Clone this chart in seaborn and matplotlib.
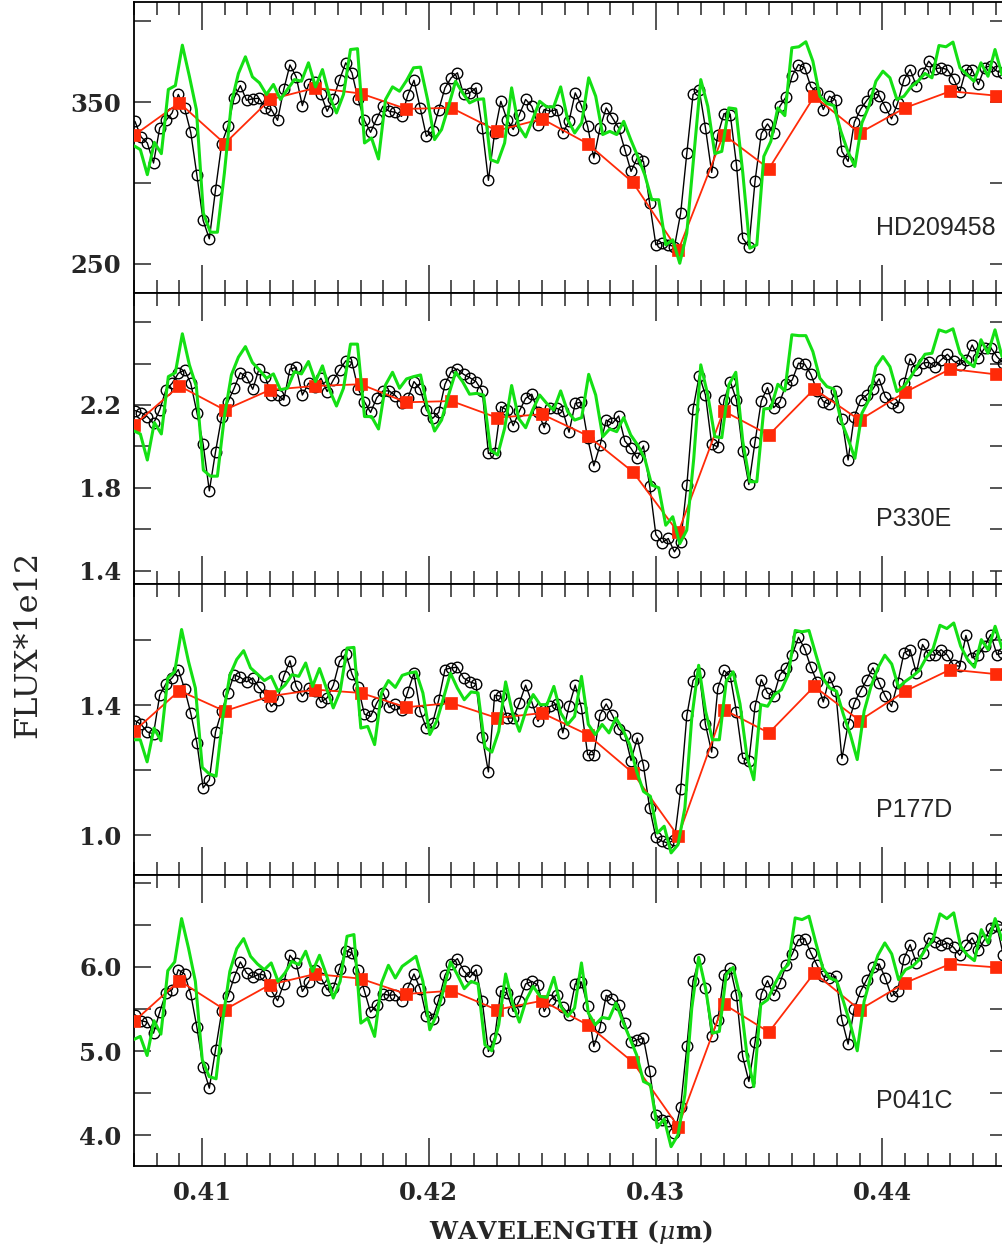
import numpy as np
import pandas as pd
import matplotlib
matplotlib.use("Agg")
import matplotlib.pyplot as plt
import seaborn as sns
from matplotlib.ticker import FixedLocator, MultipleLocator, FormatStrFormatter

# ---------------------------------------------------------------------------
# Wavelength grids (micron)
# ---------------------------------------------------------------------------
obs_wl_start, obs_wl_stop, n_obs = 0.40704, 0.44533, 141      # STIS pixels
model_wl_start, model_wl_stop = 0.40697, 0.44528             # model grid
binned_wl = [0.407, 0.409, 0.411, 0.413, 0.415, 0.417, 0.419, 0.421, 0.423,
             0.425, 0.427, 0.429, 0.431, 0.433, 0.435, 0.437, 0.439, 0.441,
             0.443, 0.445]

star_names = ["HD209458", "P330E", "P177D", "P041C"]

# ---------------------------------------------------------------------------
# HD209458
# ---------------------------------------------------------------------------
obs_hd209458 = [
    338.2, 328.5, 324.8, 312.4, 334.1, 338.8, 343.4, 354.8, 346.5, 331.4,
    304.8, 276.9, 265.5, 295.9, 324.4, 335.1, 352.7, 360.3, 351.2, 352.1,
    352.5, 346.5, 345.5, 338.8, 357.9, 373.1, 365.7, 347.9, 361.0, 362.4,
    354.8, 344.4, 352.3, 364.0,
    374.4, 368.2, 351.7, 338.8, 331.4, 339.9, 347.5, 344.4, 343.8, 341.3,
    354.3, 363.6, 346.5, 328.9, 332.0, 345.5, 358.9, 365.1, 368.2, 354.8,
    355.8, 358.9, 334.1, 301.7, 331.0, 350.6, 339.3, 333.1, 342.4, 351.7,
    347.5, 336.2, 345.5, 344.4, 345.5, 331.0, 338.2, 355.8, 347.9, 335.1,
    315.5, 334.1, 346.5, 340.3, 334.1, 320.7, 307.2, 315.5, 313.4, 287.6,
    261.8, 263.2, 261.8,
    260.7, 281.4, 318.6, 354.8, 357.4, 334.1, 306.6, 330.0, 343.0, 342.4,
    311.4, 265.9, 260.7, 301.4, 330.6, 336.6, 331.0, 347.5, 353.3, 366.5,
    373.3, 371.3, 359.5, 356.2, 345.5, 353.7, 351.2, 319.6, 313.4, 337.6,
    345.5, 351.0, 355.8, 354.1, 347.1, 339.7, 349.6, 364.0, 370.2, 360.3,
    368.2, 375.4, 370.7, 371.3, 370.2, 364.5, 356.2, 370.2, 370.2, 361.0,
    371.3, 372.7, 369.2, 368.2]
model_hd209458 = [
    323.3, 320.7, 305.2, 325.2, 318.2, 357.9, 360.3, 385.3, 366.1, 345.5,
    281.4, 269.6, 269.6, 306.2, 349.6, 367.8, 378.1, 365.7, 362.0, 354.8,
    361.0, 351.7, 357.9, 364.0, 363.0, 374.4, 359.5, 370.2, 353.7, 343.4,
    354.8,
    382.6, 383.1, 324.8, 327.9, 314.9, 351.7, 359.5, 356.8, 363.4, 371.3,
    371.7, 351.7, 326.9, 333.1, 347.5, 363.0, 355.8, 349.6, 351.7, 352.1,
    314.5, 312.8, 324.8, 358.9, 335.1, 328.5, 339.3, 350.6, 347.1, 347.1,
    359.5, 339.3, 331.0, 337.2, 365.1, 353.7, 330.0, 332.0, 330.0, 338.2,
    326.9, 316.5, 305.2, 289.7, 289.7, 261.8, 264.9, 250.4,
    269.0, 316.5, 364.0, 347.5, 318.2, 319.6, 346.5, 345.9, 306.2, 259.7,
    261.8, 316.5, 325.8, 346.5, 341.7, 383.7, 384.3, 387.4, 375.4, 353.7,
    349.2, 347.9, 332.0, 319.6, 310.3, 337.2, 347.5, 363.0, 369.2, 365.1,
    351.7, 353.7, 359.5, 363.0, 367.8, 365.1, 385.1, 384.3, 387.2, 371.3,
    367.1, 363.0, 374.4, 366.1, 382.6, 367.1]
binned_hd209458 = [329.5, 349.6, 324.4, 351.7, 358.9, 355.4, 345.9, 346.5,
                   332.4, 339.7, 324.4, 300.4, 258.3, 330.0, 308.9, 353.7,
                   331.0, 346.5, 356.8, 354.1]

# ---------------------------------------------------------------------------
# P330E
# ---------------------------------------------------------------------------
obs_p330e = [
    2.173, 2.163, 2.144, 2.111, 2.176, 2.273, 2.305, 2.353, 2.369, 2.305,
    2.163, 2.011, 1.785, 1.974, 2.144, 2.216, 2.281, 2.356, 2.334, 2.276,
    2.373, 2.337, 2.248, 2.248, 2.224, 2.373, 2.382, 2.248, 2.305, 2.289,
    2.329, 2.265, 2.321, 2.369,
    2.413, 2.406, 2.277, 2.216, 2.164, 2.235, 2.268, 2.268, 2.245, 2.208,
    2.232, 2.313, 2.277, 2.176, 2.135, 2.165, 2.300, 2.361, 2.374, 2.348,
    2.332, 2.313, 2.268, 1.966, 1.966, 2.192, 2.176, 2.100, 2.171, 2.232,
    2.252, 2.168, 2.090, 2.187, 2.184, 2.171, 2.068, 2.208, 2.213, 2.039,
    1.906, 2.006, 2.127, 2.111, 2.147, 2.026, 1.990, 1.942, 2.002, 1.810,
    1.574, 1.535, 1.555,
    1.490, 1.539, 1.813, 2.181, 2.342, 2.248, 2.010, 1.998, 2.224, 2.313,
    2.224, 1.977, 1.816, 2.023, 2.219, 2.284, 2.187, 2.216, 2.300, 2.321,
    2.402, 2.397, 2.348, 2.268, 2.216, 2.203, 2.268, 2.132, 1.934, 2.144,
    2.224, 2.248, 2.277, 2.326, 2.240, 2.208, 2.192, 2.305, 2.423, 2.369,
    2.402, 2.406, 2.385, 2.418, 2.445, 2.413, 2.394, 2.418, 2.490, 2.429,
    2.474, 2.477, 2.434, 2.402]
model_p330e = [
    2.076, 2.060, 1.934, 2.115, 2.060, 2.337, 2.356, 2.544, 2.394, 2.289,
    1.885, 1.856, 1.856, 2.144, 2.345, 2.431, 2.482, 2.405, 2.369, 2.329,
    2.350, 2.273, 2.281, 2.361, 2.350, 2.410, 2.313, 2.389, 2.273, 2.195,
    2.281,
    2.494, 2.494, 2.144, 2.144, 2.084, 2.297, 2.358, 2.281, 2.326, 2.337,
    2.345, 2.184, 2.074, 2.127, 2.248, 2.358, 2.313, 2.252, 2.256, 2.248,
    1.982, 1.958, 2.087, 2.294, 2.135, 2.090, 2.176, 2.248, 2.208, 2.176,
    2.268, 2.168, 2.127, 2.139, 2.348, 2.248, 2.047, 2.084, 2.071, 2.139,
    2.055, 2.006, 1.942, 1.813, 1.800, 1.619, 1.660, 1.530,
    1.595, 1.942, 2.394, 2.248, 2.047, 2.042, 2.297, 2.358, 2.023, 1.829,
    1.829, 2.181, 2.184, 2.300, 2.268, 2.539, 2.535, 2.535, 2.458, 2.329,
    2.289, 2.277, 2.127, 2.039, 1.942, 2.160, 2.224, 2.385, 2.434, 2.385,
    2.265, 2.289, 2.337, 2.394, 2.445, 2.450, 2.563, 2.552, 2.568, 2.450,
    2.410, 2.385, 2.515, 2.450, 2.563, 2.434]
binned_p330e = [2.103, 2.292, 2.176, 2.273, 2.292, 2.300, 2.213, 2.219,
                2.139, 2.155, 2.052, 1.877, 1.584, 2.171, 2.055, 2.277,
                2.127, 2.261, 2.374, 2.348]

# ---------------------------------------------------------------------------
# P177D
# ---------------------------------------------------------------------------
obs_p177d = [
    1.353, 1.341, 1.318, 1.312, 1.431, 1.466, 1.484, 1.510, 1.451, 1.376,
    1.284, 1.146, 1.171, 1.318, 1.382, 1.438, 1.494, 1.486, 1.472, 1.484,
    1.455, 1.433, 1.397, 1.417, 1.489, 1.537, 1.458, 1.428, 1.453, 1.443,
    1.410, 1.423, 1.462, 1.535, 1.558, 1.496, 1.455, 1.373, 1.366, 1.407,
    1.438, 1.394, 1.404, 1.384, 1.441, 1.499, 1.382, 1.330, 1.346, 1.417,
    1.510, 1.515, 1.517, 1.484, 1.472, 1.466, 1.302, 1.195, 1.431,
    1.428, 1.361, 1.361, 1.407, 1.462, 1.410, 1.351, 1.387, 1.397, 1.404,
    1.315, 1.397, 1.462, 1.392, 1.248, 1.248, 1.371, 1.404, 1.369, 1.328,
    1.310, 1.230, 1.299, 1.215, 1.084, 0.994, 0.982, 0.976, 0.987, 1.141,
    1.369, 1.476, 1.499, 1.341, 1.256, 1.453, 1.507, 1.489, 1.379, 1.238,
    1.228, 1.397, 1.479, 1.438, 1.428, 1.494, 1.515, 1.556, 1.609, 1.574,
    1.517, 1.472, 1.410, 1.486, 1.443, 1.236, 1.341, 1.407, 1.445, 1.479,
    1.515, 1.469, 1.428, 1.397, 1.469, 1.561, 1.571, 1.499, 1.587, 1.556,
    1.554, 1.571, 1.554, 1.523, 1.520, 1.615, 1.546, 1.556, 1.582, 1.617,
    1.556, 1.561]
model_p177d = [
    1.294, 1.294, 1.226, 1.330, 1.291, 1.484, 1.503, 1.633, 1.535, 1.453,
    1.209, 1.189, 1.182, 1.366, 1.492, 1.541, 1.568, 1.515, 1.496, 1.476,
    1.489, 1.443, 1.462, 1.494, 1.489, 1.530, 1.458, 1.513, 1.453, 1.392,
    1.443,
    1.576, 1.578, 1.330, 1.335, 1.279, 1.438, 1.476, 1.455, 1.492, 1.499,
    1.503, 1.438, 1.310, 1.351, 1.423, 1.499, 1.453, 1.417, 1.441, 1.438,
    1.271, 1.256, 1.320,
    1.472, 1.376, 1.320, 1.387, 1.433, 1.402, 1.402, 1.458, 1.376, 1.341,
    1.366, 1.489, 1.341, 1.310, 1.341, 1.315, 1.361, 1.325, 1.279, 1.197,
    1.135, 1.120, 1.007, 1.028, 0.946,
    0.971, 1.084, 1.361, 1.523, 1.382, 1.294, 1.294, 1.474, 1.503, 1.404,
    1.243, 1.171, 1.402, 1.397, 1.433, 1.448, 1.494, 1.630, 1.626, 1.630,
    1.556, 1.484, 1.453, 1.443, 1.371, 1.310, 1.233, 1.382, 1.458, 1.515,
    1.554, 1.527, 1.455, 1.474, 1.489, 1.507, 1.546, 1.574, 1.646, 1.636,
    1.653, 1.582, 1.541, 1.517, 1.602, 1.571, 1.643, 1.576]
binned_p177d = [1.320, 1.445, 1.382, 1.428, 1.448, 1.438, 1.394, 1.407,
                1.361, 1.376, 1.310, 1.192, 0.997, 1.387, 1.315, 1.458,
                1.353, 1.443, 1.510, 1.496]

# ---------------------------------------------------------------------------
# P041C
# ---------------------------------------------------------------------------
obs_p041c = [
    5.433, 5.361, 5.345, 5.214, 5.464, 5.690, 5.730, 5.968, 5.917, 5.679,
    5.282, 4.806, 4.560, 5.016, 5.472, 5.651, 5.877, 6.060, 5.929, 5.877,
    5.917, 5.901, 5.718, 5.599, 5.798, 6.139, 6.048, 5.710, 5.821, 5.968,
    5.869, 5.730, 5.750, 5.980, 6.194, 6.167, 5.968, 5.718, 5.464, 5.552,
    5.679, 5.663, 5.671, 5.599, 5.750, 5.917, 5.742, 5.413, 5.385, 5.611,
    5.901, 6.036, 6.099, 5.956, 5.877, 5.968, 5.599, 4.996, 5.155,
    5.718, 5.690, 5.472, 5.599, 5.798, 5.829, 5.782, 5.472, 5.611, 5.671,
    5.520, 5.433, 5.798, 5.821, 5.532, 5.056, 5.282, 5.663, 5.623, 5.552,
    5.333, 5.107, 5.135, 5.155, 4.766, 4.242, 4.183, 4.171, 4.024, 4.341,
    5.056, 5.837, 6.099, 5.750, 5.175, 5.373, 5.909, 5.988, 5.663, 4.937,
    4.639, 5.107, 5.679, 5.837, 5.663, 5.810, 6.020, 6.155, 6.325, 6.337,
    6.167, 6.020, 5.889, 5.869, 5.889, 5.373, 5.083, 5.504, 5.710, 5.849,
    5.996, 6.036, 5.869, 5.651, 5.718, 6.099, 6.266, 6.048, 6.167, 6.345,
    6.298, 6.258, 6.286, 6.234, 6.139, 6.258, 6.345, 6.206, 6.325, 6.464,
    6.484, 6.147]
model_p041c = [
    5.135, 5.175, 4.948, 5.361, 5.202, 5.956, 6.060, 6.575, 6.226, 5.829,
    4.897, 4.698, 4.671, 5.385, 5.948, 6.218, 6.337, 6.127, 6.036, 5.968,
    6.048, 5.829, 5.929, 6.067, 6.028, 6.187, 5.948, 6.139, 5.909, 5.631,
    5.829,
    6.365, 6.385, 5.333, 5.393, 5.175, 5.810, 6.020, 5.869, 6.008, 6.067,
    6.127, 5.829, 5.254, 5.433, 5.730, 6.060, 5.909, 5.742, 5.829, 5.798,
    5.075, 5.004, 5.313,
    5.917, 5.571, 5.345, 5.611, 5.770, 5.651, 5.639, 5.877, 5.532, 5.413,
    5.512, 6.048, 5.452, 5.313, 5.401, 5.385, 5.571, 5.353, 5.155, 4.956,
    4.639, 4.599, 4.091, 4.194, 3.865,
    4.004, 4.480, 5.512, 6.115, 5.750, 5.214, 5.234, 5.909, 5.996, 5.651,
    4.956, 4.579, 5.552, 5.611, 5.790, 5.948, 6.028, 6.583, 6.563, 6.603,
    6.286, 5.988, 5.869, 5.837, 5.591, 5.321, 5.004, 5.591, 5.889, 6.139,
    6.286, 6.155, 5.849, 5.968, 6.008, 6.087, 6.226, 6.325, 6.631, 6.575,
    6.643, 6.246, 6.139, 6.075, 6.444, 6.286, 6.575, 6.325]
binned_p041c = [5.353, 5.837, 5.492, 5.790, 5.917, 5.861, 5.679, 5.718,
                5.492, 5.599, 5.313, 4.869, 4.103, 5.560, 5.226, 5.929,
                5.492, 5.810, 6.036, 5.996]

# Axis ranges and tick positions for each panel
panel_ylims = [(232.0, 412.0), (1.335, 2.741), (0.878, 1.773), (3.635, 7.093)]
panel_yticks = [[250, 350], [1.4, 1.8, 2.2], [1.0, 1.4], [4.0, 5.0, 6.0]]
panel_yminor = [[300, 400], [1.6, 2.0, 2.4, 2.6], [1.2, 1.6], [4.5, 5.5, 6.5, 7.0]]
panel_yfmt = ["%d", "%.1f", "%.1f", "%.1f"]
x_major = [0.41, 0.42, 0.43, 0.44]

obs_sets = [obs_hd209458, obs_p330e, obs_p177d, obs_p041c]
model_sets = [model_hd209458, model_p330e, model_p177d, model_p041c]
binned_sets = [binned_hd209458, binned_p330e, binned_p177d, binned_p041c]

# ---------------------------------------------------------------------------
# Styling
# ---------------------------------------------------------------------------
sns.set_style("ticks")
plt.rcParams.update({
    "font.family": ["DejaVu Serif", "DejaVu Sans"],
    "mathtext.fontset": "dejavuserif",
    "axes.linewidth": 1.3,
    "axes.edgecolor": "black",
})

OBS_COLOR = "black"
MODEL_COLOR = "#14e014"
BIN_COLOR = "#ff2a08"

W_PX, H_PX = 1003, 1251
fig = plt.figure(figsize=(W_PX / 100, H_PX / 100), dpi=100)

ax_left_px, ax_right_px = 134, 1007
panel_edges_px = [(2, 293), (293, 584), (584, 875), (875, 1166)]

obs_wl = np.linspace(obs_wl_start, obs_wl_stop, n_obs)
tick_font = dict(family="DejaVu Serif", weight="bold", size=17.5)

for k, (top_px, bot_px) in enumerate(panel_edges_px):
    rect = [ax_left_px / W_PX, 1 - bot_px / H_PX,
            (ax_right_px - ax_left_px) / W_PX, (bot_px - top_px) / H_PX]
    ax = fig.add_axes(rect)

    obs_df = pd.DataFrame({"wl": obs_wl, "flux": obs_sets[k]})
    model_df = pd.DataFrame({
        "wl": np.linspace(model_wl_start, model_wl_stop, len(model_sets[k])),
        "flux": model_sets[k]})
    bin_df = pd.DataFrame({"wl": binned_wl, "flux": binned_sets[k]})

    # observed spectrum: thin black line with open circles
    sns.lineplot(data=obs_df, x="wl", y="flux", ax=ax, color=OBS_COLOR,
                 linewidth=1.0, marker="o", markersize=7.6,
                 markerfacecolor="none", markeredgecolor=OBS_COLOR,
                 markeredgewidth=1.0, estimator=None, sort=False,
                 legend=False, zorder=2)
    # 20 A bins: red squares
    sns.lineplot(data=bin_df, x="wl", y="flux", ax=ax, color=BIN_COLOR,
                 linewidth=1.3, marker="s", markersize=9,
                 markerfacecolor=BIN_COLOR, markeredgecolor=BIN_COLOR,
                 markeredgewidth=0.5, estimator=None, sort=False,
                 legend=False, zorder=3)
    # model spectrum: green line
    sns.lineplot(data=model_df, x="wl", y="flux", ax=ax, color=MODEL_COLOR,
                 linewidth=2.2, estimator=None, sort=False, legend=False,
                 zorder=4)

    ax.set_xlim(0.407, 0.4455)
    ax.set_ylim(*panel_ylims[k])
    ax.set_xlabel("")
    ax.set_ylabel("")

    ax.xaxis.set_major_locator(FixedLocator(x_major))
    ax.xaxis.set_minor_locator(MultipleLocator(0.001))
    ax.yaxis.set_major_locator(FixedLocator(panel_yticks[k]))
    ax.yaxis.set_minor_locator(FixedLocator(panel_yminor[k]))
    ax.yaxis.set_major_formatter(FormatStrFormatter(panel_yfmt[k]))
    ax.xaxis.set_major_formatter(FormatStrFormatter("%.2f"))

    ax.tick_params(axis="x", which="major", direction="in", length=20,
                   width=1.1, top=True, bottom=True, pad=11,
                   labelbottom=(k == 3))
    ax.tick_params(axis="x", which="minor", direction="in", length=9.5,
                   width=1.1, top=True, bottom=True)
    ax.tick_params(axis="y", which="both", direction="in", length=12.5,
                   width=1.1, left=True, right=True, pad=9)
    for lab in ax.get_xticklabels() + ax.get_yticklabels():
        lab.set_fontproperties(tick_font)

    ax.text(0.850, 0.198, star_names[k], transform=ax.transAxes,
            ha="left", va="baseline", family="Liberation Sans", size=18)

fig.text(571 / W_PX, 1 - 1232 / H_PX, r"WAVELENGTH ($\mu$m)", ha="center",
         va="center", family="DejaVu Serif", weight="bold", size=18)
fig.text(28 / W_PX, 1 - 644 / H_PX, "FLUX*1e12", rotation=90, ha="center",
         va="center", family="DejaVu Serif", size=23)

fig.savefig("out.png", dpi=100)
